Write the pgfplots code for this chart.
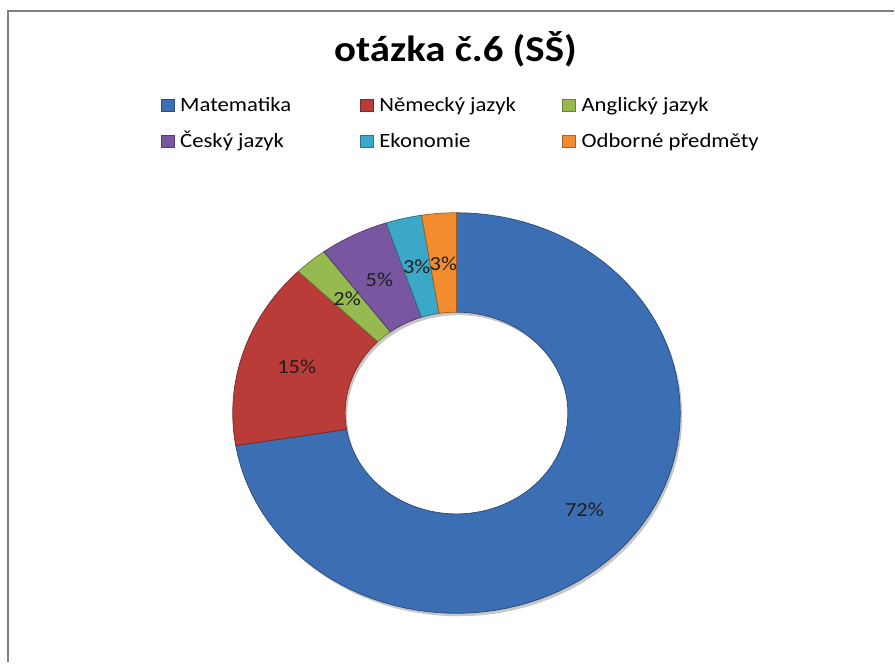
\documentclass[border=0pt]{standalone}
\usepackage{fontspec}
\setmainfont{Carlito}[FakeStretch=1.12]
\usepackage{pgfplots}
\pgfplotsset{compat=1.18}
\usepackage{pgfplotstable}
\usepgfplotslibrary{fillbetween}

\definecolor{c0}{RGB}{60,110,180}
\definecolor{c1}{RGB}{186,60,56}
\definecolor{c2}{RGB}{150,186,80}
\definecolor{c3}{RGB}{120,86,160}
\definecolor{c4}{RGB}{60,168,200}
\definecolor{c5}{RGB}{242,140,46}

% value = share of the ring (percent), label = shown data label
\pgfplotstableread[col sep=comma]{
name,value,label
Matematika,72.4,72
Německý jazyk,15.1,15
Anglický jazyk,2.4,2
Český jazyk,5.0,5
Ekonomie,2.6,3
Odborné předměty,2.5,3
}\datatable

\newcommand\labfont{\fontsize{20bp}{24bp}\selectfont}
\newcommand\legfont{\fontsize{20.3bp}{24bp}\selectfont}
\newcommand\titlefont{\fontsize{36.5bp}{42bp}\selectfont\bfseries}

\begin{document}
\begin{tikzpicture}
\begin{axis}[
  scale only axis, width=895bp, height=663bp,
  xmin=0, xmax=895, ymin=0, ymax=663,
  axis lines=none, ticks=none, clip=false, set layers,
  legend columns=3,
  legend cell align=left,
  legend image code/.code={\draw[#1] (0bp,-4bp) rectangle (13bp,8bp);},
  legend style={draw=none, fill=none, inner sep=0pt, outer sep=0pt,
    at={(axis cs:161,566)}, anchor=north west,
    font=\legfont, row sep=16bp,
    nodes={inner xsep=3bp, inner ysep=0pt, text height=15bp, text depth=5bp},
    /tikz/every odd column/.append style={column sep=3bp},
    /tikz/every even column/.append style={column sep=0pt}},
]
% picture extent
\path (axis cs:0,0) rectangle (axis cs:895,663);
% frame
\draw[color={rgb,255:red,128;green,128;blue,128}, line width=2bp, line join=miter]
  (axis cs:8,0) -- (axis cs:8,652) -- (axis cs:895,652);

% title
\node[anchor=base, font=\titlefont] at (axis cs:456,601) {otázka č.6 (SŠ)};

% legend
\addlegendimage{fill=c0, draw=c0!70!black}
\addlegendentry{\makebox[177bp][l]{Matematika}}
\addlegendimage{fill=c1, draw=c1!70!black}
\addlegendentry{\makebox[180bp][l]{Německý jazyk}}
\addlegendimage{fill=c2, draw=c2!70!black}
\addlegendentry{Anglický jazyk}
\addlegendimage{fill=c3, draw=c3!70!black}
\addlegendentry{\makebox[177bp][l]{Český jazyk}}
\addlegendimage{fill=c4, draw=c4!70!black}
\addlegendentry{\makebox[180bp][l]{Ekonomie}}
\addlegendimage{fill=c5, draw=c5!70!black}
\addlegendentry{Odborné předměty}

% soft shadow of the ring
\addplot[draw=none, forget plot, name path=so, domain=0:360, samples=120]
  ({459+224*cos(x)},{246.5+200.5*sin(x)});
\addplot[draw=none, forget plot, name path=si, domain=0:360, samples=120]
  ({459+111.5*cos(x)},{246.5+101*sin(x)});
\addplot[fill=black!22, draw=none, forget plot] fill between[of=so and si];

% ring slices
\def\cum{0}
\pgfplotsforeachungrouped \i in {0,...,5}{%
  \pgfplotstablegetelem{\i}{value}\of\datatable
  \let\v\pgfplotsretval
  \pgfplotstablegetelem{\i}{label}\of\datatable
  \let\lab\pgfplotsretval
  \pgfmathsetmacro\a{90-3.6*\cum}%
  \pgfmathsetmacro\cum{\cum+\v}%
  \pgfmathsetmacro\b{90-3.6*\cum}%
  \pgfmathsetmacro\m{(\a+\b)/2}%
  \pgfmathsetmacro\lx{457+168*cos(\m)}%
  \pgfmathsetmacro\ly{249.5+150.4*sin(\m)}%
  \edef\cmd{%
    \noexpand\addplot[draw=none, forget plot, name path=o\i, domain=\b:\a, samples=90]
      ({457+224*cos(x)},{249.5+200.5*sin(x)});
    \noexpand\addplot[draw=none, forget plot, name path=n\i, domain=\b:\a, samples=90]
      ({457+111.5*cos(x)},{249.5+101*sin(x)});
    \noexpand\addplot[fill=c\i, draw=c\i!65!black, line width=0.7bp, forget plot]
      fill between[of=o\i\space and n\i];
    \noexpand\node[font=\noexpand\labfont, text=black!88] at (axis cs:\lx,\ly) {\lab\noexpand\%};
  }\cmd
}
\end{axis}
\end{tikzpicture}
\end{document}
